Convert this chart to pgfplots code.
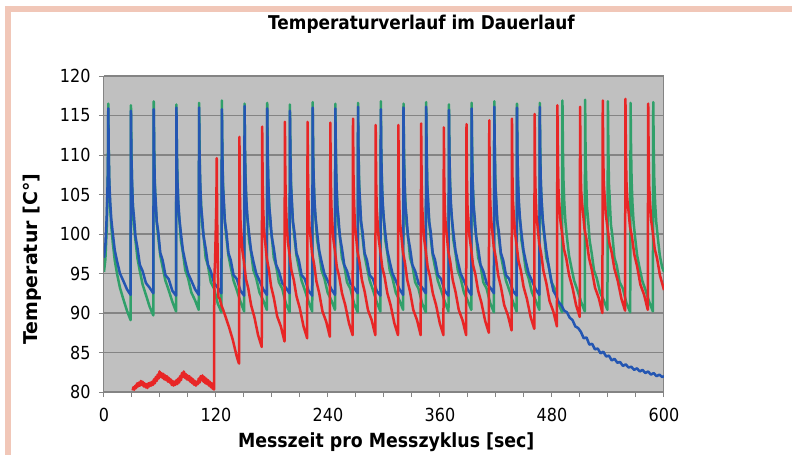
\documentclass[border=0pt]{standalone}
\usepackage{fontspec}
\setmainfont{DejaVu Sans}[FakeStretch=0.89]
\newfontfamily\ylabfont{DejaVu Sans}
\usepackage{pgfplots}
\pgfplotsset{compat=1.18}

\definecolor{plotbg}{RGB}{192,192,192}
\definecolor{gridgray}{RGB}{132,132,132}
\definecolor{framepink}{RGB}{241,199,184}
\definecolor{lineblue}{RGB}{36,86,178}
\definecolor{linered}{RGB}{232,38,38}
\definecolor{linegreen}{RGB}{48,160,106}

\begin{document}
\begin{tikzpicture}
\useasboundingbox (-104pt,-63pt) rectangle (688pt,392pt);
\begin{axis}[
    scale only axis,
    width=560pt, height=316pt,
    xmin=0, xmax=600, ymin=80, ymax=120,
    xtick={0,120,...,600},
    minor x tick num=3,
    ytick={80,85,...,120},
    tick pos=left,
    tick align=outside,
    major tick length=5pt,
    minor tick length=5pt,
    tick style={gridgray, line width=1pt},
    axis line style={gridgray, line width=1pt},
    axis background/.style={fill=plotbg},
    ymajorgrids,
    grid style={gridgray, line width=1.1pt},
    /pgf/number format/assume math mode=true,
    ticklabel style={font=\fontsize{18}{18}\selectfont},
    xticklabel style={yshift=-8pt},
    yticklabel style={xshift=-5pt},
    title={Temperaturverlauf im Dauerlauf},
    title style={font=\bfseries\fontsize{19}{19}\selectfont, at={(axis description cs:0.567,1.1266)}, anchor=base},
    xlabel={Messzeit pro Messzyklus [sec]},
    xlabel style={font=\bfseries\fontsize{19.5}{19.5}\selectfont, at={(axis description cs:0.504,-0.1772)}, anchor=base},
    ylabel={Temperatur [C°]},
    ylabel style={font=\ylabfont\bfseries\fontsize{19}{19}\selectfont, at={(axis description cs:-0.1196,0.42)}, anchor=base},
    every axis plot/.append style={line width=2.5pt, line join=round},
]
% green
\addplot[linegreen] coordinates {
(0,95.2) (1.5,96.8) (3.0,101.0) (4.2,108.5)
(4.6,116.5) (5.1,110.5) (5.7,106.2) (6.6,103.4) (7.8,101.0) (9.4,98.9) (11.6,96.6) (14.1,94.9) (17.1,93.2) (20.6,91.8) (24.6,90.3) (28.5,89.1)
(28.9,116.3) (29.4,110.6) (30.0,106.5) (30.9,103.6) (32.1,101.2) (33.7,99.2) (35.9,96.9) (38.4,95.3) (41.4,93.6) (44.9,92.3) (48.9,90.8) (52.8,89.7)
(53.3,116.8) (53.8,110.8) (54.4,106.8) (55.3,103.9) (56.5,101.5) (58.1,99.6) (60.3,97.3) (62.8,95.8) (65.8,94.1) (69.3,92.9) (73.3,91.4) (77.2,90.2)
(77.6,116.4) (78.1,110.2) (78.7,107.1) (79.6,103.4) (80.8,101.8) (82.4,99.2) (84.6,97.6) (87.1,95.4) (90.1,94.4) (93.6,92.6) (97.6,91.6) (101.5,90.4)
(101.9,116.6) (102.4,111.0) (103.0,106.4) (103.9,104.2) (105.1,101.2) (106.7,99.8) (108.9,97.0) (111.4,96.0) (114.4,93.9) (117.9,93.1) (121.9,91.2) (125.8,90.1)
(126.3,116.9) (126.8,110.8) (127.4,106.8) (128.3,103.9) (129.5,101.5) (131.1,99.6) (133.3,97.3) (135.8,95.8) (138.8,94.1) (142.3,92.9) (146.3,91.4) (150.2,90.2)
(150.6,116.5) (151.1,110.2) (151.7,107.1) (152.6,103.4) (153.8,101.8) (155.4,99.2) (157.6,97.6) (160.1,95.4) (163.1,94.4) (166.6,92.6) (170.6,91.6) (174.5,90.4)
(174.9,116.6) (175.4,111.0) (176.0,106.4) (176.9,104.2) (178.1,101.2) (179.7,99.8) (181.9,97.0) (184.4,96.0) (187.4,93.9) (190.9,93.1) (194.9,91.2) (198.8,90.1)
(199.2,116.4) (199.7,110.8) (200.3,106.8) (201.2,103.9) (202.4,101.5) (204.0,99.6) (206.2,97.3) (208.7,95.8) (211.7,94.1) (215.2,92.9) (219.2,91.4) (223.1,90.2)
(223.6,116.7) (224.1,110.2) (224.7,107.1) (225.6,103.4) (226.8,101.8) (228.4,99.2) (230.6,97.6) (233.1,95.4) (236.1,94.4) (239.6,92.6) (243.6,91.6) (247.5,90.4)
(247.9,116.5) (248.4,111.0) (249.0,106.4) (249.9,104.2) (251.1,101.2) (252.7,99.8) (254.9,97.0) (257.4,96.0) (260.4,93.9) (263.9,93.1) (267.9,91.2) (271.8,90.1)
(272.2,116.6) (272.7,110.8) (273.3,106.8) (274.2,103.9) (275.4,101.5) (277.0,99.6) (279.2,97.3) (281.7,95.8) (284.7,94.1) (288.2,92.9) (292.2,91.4) (296.1,90.2)
(296.6,116.8) (297.1,110.2) (297.7,107.1) (298.6,103.4) (299.8,101.8) (301.4,99.2) (303.6,97.6) (306.1,95.4) (309.1,94.4) (312.6,92.6) (316.6,91.6) (320.5,90.4)
(320.9,116.5) (321.4,111.0) (322.0,106.4) (322.9,104.2) (324.1,101.2) (325.7,99.8) (327.9,97.0) (330.4,96.0) (333.4,93.9) (336.9,93.1) (340.9,91.2) (344.8,90.1)
(345.2,116.7) (345.7,110.8) (346.3,106.8) (347.2,103.9) (348.4,101.5) (350.0,99.6) (352.2,97.3) (354.7,95.8) (357.7,94.1) (361.2,92.9) (365.2,91.4) (369.1,90.2)
(369.6,116.4) (370.1,110.2) (370.7,107.1) (371.6,103.4) (372.8,101.8) (374.4,99.2) (376.6,97.6) (379.1,95.4) (382.1,94.4) (385.6,92.6) (389.6,91.6) (393.5,90.4)
(393.9,116.6) (394.4,111.0) (395.0,106.4) (395.9,104.2) (397.1,101.2) (398.7,99.8) (400.9,97.0) (403.4,96.0) (406.4,93.9) (409.9,93.1) (413.9,91.2) (417.8,90.1)
(418.2,116.8) (418.7,110.8) (419.3,106.8) (420.2,103.9) (421.4,101.5) (423.0,99.6) (425.2,97.3) (427.7,95.8) (430.7,94.1) (434.2,92.9) (438.2,91.4) (442.1,90.2)
(442.5,116.5) (443.0,110.2) (443.6,107.1) (444.5,103.4) (445.7,101.8) (447.3,99.2) (449.5,97.6) (452.0,95.4) (455.0,94.4) (458.5,92.6) (462.5,91.6) (466.4,90.4)
(466.9,116.6) (467.4,111.0) (468.0,106.4) (468.9,104.2) (470.1,101.2) (471.7,99.8) (473.9,97.0) (476.4,96.0) (479.4,93.9) (482.9,93.1) (486.9,91.2) (490.8,90.1)
(491.2,116.9) (491.7,110.8) (492.3,106.8) (493.2,103.9) (494.4,101.5) (496.0,99.6) (498.2,97.3) (500.7,95.8) (503.7,94.1) (507.2,92.9) (511.2,91.4) (515.1,90.2)
(515.5,117.0) (516.0,110.2) (516.6,107.1) (517.5,103.4) (518.7,101.8) (520.3,99.2) (522.5,97.6) (525.0,95.4) (528.0,94.4) (531.5,92.6) (535.5,91.6) (539.4,90.4)
(539.9,116.8) (540.4,111.0) (541.0,106.4) (541.9,104.2) (543.1,101.2) (544.7,99.8) (546.9,97.0) (549.4,96.0) (552.4,93.9) (555.9,93.1) (559.9,91.2) (563.8,90.1)
(564.2,116.6) (564.7,110.8) (565.3,106.8) (566.2,103.9) (567.4,101.5) (569.0,99.6) (571.2,97.3) (573.7,95.8) (576.7,94.1) (580.2,92.9) (584.2,91.4) (588.1,90.2)
(588.5,116.7) (589.0,110.8) (589.6,106.8) (590.5,103.9) (591.7,101.5) (593.3,99.6) (595.5,97.3) (598.0,95.8) (600,95.2)
};
% blue
\addplot[lineblue] coordinates {
(0,97.0) (1.5,98.6) (3.0,102.4) (4.2,108.0)
(4.6,115.9) (5.1,110.2) (5.7,106.6) (6.6,104.1) (7.8,101.9) (9.4,100.1) (11.6,97.9) (14.1,96.5) (17.1,95.0) (20.6,94.1) (24.6,93.0) (28.5,92.3)
(28.9,115.6) (29.4,109.6) (30.0,106.9) (30.9,103.6) (32.1,102.2) (33.7,99.7) (35.9,98.2) (38.4,96.1) (41.4,95.3) (44.9,93.8) (48.9,93.2) (52.8,92.5)
(53.3,115.8) (53.8,110.5) (54.4,106.2) (55.3,104.4) (56.5,101.6) (58.1,100.3) (60.3,97.6) (62.8,96.7) (65.8,94.8) (69.3,94.3) (73.3,92.8) (77.2,92.2)
(77.6,116.0) (78.1,110.2) (78.7,106.6) (79.6,104.1) (80.8,101.9) (82.4,100.1) (84.6,97.9) (87.1,96.5) (90.1,95.0) (93.6,94.1) (97.6,93.0) (101.5,92.3)
(101.9,116.0) (102.4,109.6) (103.0,106.9) (103.9,103.6) (105.1,102.2) (106.7,99.7) (108.9,98.2) (111.4,96.1) (114.4,95.3) (117.9,93.8) (121.9,93.2) (125.8,92.5)
(126.3,115.8) (126.8,110.5) (127.4,106.2) (128.3,104.4) (129.5,101.6) (131.1,100.3) (133.3,97.6) (135.8,96.7) (138.8,94.8) (142.3,94.3) (146.3,92.8) (150.2,92.2)
(150.6,116.2) (151.1,110.2) (151.7,106.6) (152.6,104.1) (153.8,101.9) (155.4,100.1) (157.6,97.9) (160.1,96.5) (163.1,95.0) (166.6,94.1) (170.6,93.0) (174.5,92.3)
(174.9,115.9) (175.4,109.6) (176.0,106.9) (176.9,103.6) (178.1,102.2) (179.7,99.7) (181.9,98.2) (184.4,96.1) (187.4,95.3) (190.9,93.8) (194.9,93.2) (198.8,92.5)
(199.2,115.6) (199.7,110.5) (200.3,106.2) (201.2,104.4) (202.4,101.6) (204.0,100.3) (206.2,97.6) (208.7,96.7) (211.7,94.8) (215.2,94.3) (219.2,92.8) (223.1,92.2)
(223.6,116.0) (224.1,110.2) (224.7,106.6) (225.6,104.1) (226.8,101.9) (228.4,100.1) (230.6,97.9) (233.1,96.5) (236.1,95.0) (239.6,94.1) (243.6,93.0) (247.5,92.3)
(247.9,115.9) (248.4,109.6) (249.0,106.9) (249.9,103.6) (251.1,102.2) (252.7,99.7) (254.9,98.2) (257.4,96.1) (260.4,95.3) (263.9,93.8) (267.9,93.2) (271.8,92.5)
(272.2,116.1) (272.7,110.5) (273.3,106.2) (274.2,104.4) (275.4,101.6) (277.0,100.3) (279.2,97.6) (281.7,96.7) (284.7,94.8) (288.2,94.3) (292.2,92.8) (296.1,92.2)
(296.6,115.8) (297.1,110.2) (297.7,106.6) (298.6,104.1) (299.8,101.9) (301.4,100.1) (303.6,97.9) (306.1,96.5) (309.1,95.0) (312.6,94.1) (316.6,93.0) (320.5,92.3)
(320.9,116.0) (321.4,109.6) (322.0,106.9) (322.9,103.6) (324.1,102.2) (325.7,99.7) (327.9,98.2) (330.4,96.1) (333.4,95.3) (336.9,93.8) (340.9,93.2) (344.8,92.5)
(345.2,116.1) (345.7,110.5) (346.3,106.2) (347.2,104.4) (348.4,101.6) (350.0,100.3) (352.2,97.6) (354.7,96.7) (357.7,94.8) (361.2,94.3) (365.2,92.8) (369.1,92.2)
(369.6,115.7) (370.1,110.2) (370.7,106.6) (371.6,104.1) (372.8,101.9) (374.4,100.1) (376.6,97.9) (379.1,96.5) (382.1,95.0) (385.6,94.1) (389.6,93.0) (393.5,92.3)
(393.9,115.9) (394.4,109.6) (395.0,106.9) (395.9,103.6) (397.1,102.2) (398.7,99.7) (400.9,98.2) (403.4,96.1) (406.4,95.3) (409.9,93.8) (413.9,93.2) (417.8,92.5)
(418.2,116.1) (418.7,110.5) (419.3,106.2) (420.2,104.4) (421.4,101.6) (423.0,100.3) (425.2,97.6) (427.7,96.7) (430.7,94.8) (434.2,94.3) (438.2,92.8) (442.1,92.2)
(442.5,116.0) (443.0,110.2) (443.6,106.6) (444.5,104.1) (445.7,101.9) (447.3,100.1) (449.5,97.9) (452.0,96.5) (455.0,95.0) (458.5,94.1) (462.5,93.0) (466.4,92.3)
(466.9,116.1) (467.4,110.2) (468.0,106.6) (468.9,104.1) (470.1,101.9) (471.7,100.1) (473.9,97.9) (476.4,96.0) (479.4,94.0) (481.5,92.8) (484,92.3) (487,91.4)
(490,91.0) (493,90.3) (496,90.1) (499,89.4) (502,89.1) (505,88.3) (508,88.1) (511,87.6) (514,86.8) (517,86.9) (520,86.0) (523,86.1)
(526,85.4) (529,85.5) (532,84.9) (535,85.1) (538,84.5) (541,84.6) (544,84.0) (547,84.2) (550,83.7) (553,83.8) (556,83.3) (559,83.5)
(562,83.1) (565,83.2) (568,82.8) (571,83.0) (574,82.6) (577,82.8) (580,82.4) (583,82.6) (586,82.2) (589,82.4) (592,82.0) (595,82.2) (598,81.9) (600,82.0)
};
% red
\addplot[linered] coordinates {
(30.7,80.2) (31.5,80.6) (32.5,80.3) (33.5,80.8) (34.5,80.5) (35.5,81.1) (36.5,80.7) (37.5,81.2) (38.5,80.8) (39.5,81.4)
(40.5,80.9) (41.5,81.3) (42.5,80.7) (43.5,81.1) (44.5,80.6) (45.5,81.0) (46.5,80.5) (47.5,81.1) (48.5,80.7) (49.5,81.2)
(50.5,80.8) (51.5,81.3) (52.5,80.9) (53.5,81.6) (54.5,81.1) (55.5,81.9) (56.5,81.4) (57.5,82.2) (58.5,81.7) (59.5,82.6)
(60.5,81.9) (61.5,82.4) (62.5,81.8) (63.5,82.3) (64.5,81.6) (65.5,82.1) (66.5,81.5) (67.5,82.0) (68.5,81.3) (69.5,81.8)
(70.5,81.2) (71.5,81.6) (72.5,80.9) (73.5,81.4) (74.5,80.8) (75.5,81.3) (76.5,80.9) (77.5,81.5) (78.5,81.0) (79.5,81.7)
(80.5,81.2) (81.5,82.0) (82.5,81.5) (83.5,82.4) (84.5,81.9) (85.5,82.6) (86.5,81.8) (87.5,82.3) (88.5,81.6) (89.5,82.1)
(90.5,81.5) (91.5,82.0) (92.5,81.3) (93.5,81.8) (94.5,81.1) (95.5,81.6) (96.5,80.9) (97.5,81.4) (98.5,80.8) (99.5,81.3)
(100.5,81.0) (101.5,81.7) (102.5,81.2) (103.5,82.0) (104.5,81.5) (105.5,82.1) (106.5,81.3) (107.5,81.9) (108.5,81.1) (109.5,81.7)
(110.5,81.0) (111.5,81.5) (112.5,80.8) (113.5,81.3) (114.5,80.6) (115.5,81.1) (116.5,80.4) (117.5,80.8) (117.9,80.3)
(118.2,94.5) (119.0,96.5) (120.4,104.0) (120.8,109.6) (121.3,101.5) (122.0,95.5) (122.5,92.0) (124,91.8) (126,90.9) (128,90.3)
(130,89.6) (132,88.9) (134,88.2) (136,87.4) (138,86.6) (140,85.6) (142,84.6) (144.0,83.8) (144.8,83.6)
(145.1,112.3) (145.6,105.3) (146.2,101.8) (147.1,100.1) (148.3,97.9) (149.9,96.5) (152.1,94.3) (154.6,93.1) (157.6,91.0) (161.1,89.5) (165.1,87.2) (169.0,85.7)
(169.5,113.6) (170.0,106.6) (170.6,103.1) (171.5,100.4) (172.7,99.0) (174.3,97.0) (176.5,95.6) (179.0,93.4) (182.0,91.9) (185.5,89.6) (189.5,88.3) (193.4,86.4)
(193.8,114.2) (194.3,107.2) (194.9,103.7) (195.8,101.2) (197.0,99.0) (198.6,97.6) (200.8,95.4) (203.3,94.2) (206.3,92.1) (209.8,90.6) (213.8,88.3) (217.7,86.8)
(218.1,114.2) (218.6,107.2) (219.2,103.7) (220.1,101.0) (221.3,99.6) (222.9,97.6) (225.1,96.2) (227.6,94.0) (230.6,92.5) (234.1,90.2) (238.1,88.9) (242.0,87.0)
(242.5,114.1) (243.0,107.1) (243.6,103.6) (244.5,101.6) (245.7,99.4) (247.3,98.0) (249.5,95.8) (252.0,94.6) (255.0,92.5) (258.5,91.0) (262.5,88.7) (266.4,87.2)
(266.8,114.6) (267.3,107.6) (267.9,104.1) (268.8,101.2) (270.0,99.8) (271.6,97.8) (273.8,96.4) (276.3,94.2) (279.3,92.7) (282.8,90.4) (286.8,89.1) (290.7,87.2)
(291.1,113.8) (291.6,106.8) (292.2,103.3) (293.1,101.6) (294.3,99.4) (295.9,98.0) (298.1,95.8) (300.6,94.6) (303.6,92.5) (307.1,91.0) (311.1,88.7) (315.0,87.2)
(315.4,113.8) (315.9,106.8) (316.5,103.3) (317.4,101.2) (318.6,99.8) (320.2,97.8) (322.4,96.4) (324.9,94.2) (327.9,92.7) (331.4,90.4) (335.4,89.1) (339.3,87.2)
(339.8,114.0) (340.3,107.0) (340.9,103.5) (341.8,101.6) (343.0,99.4) (344.6,98.0) (346.8,95.8) (349.3,94.6) (352.3,92.5) (355.8,91.0) (359.8,88.7) (363.7,87.2)
(364.1,113.5) (364.6,106.5) (365.2,103.0) (366.1,101.2) (367.3,99.8) (368.9,97.8) (371.1,96.4) (373.6,94.2) (376.6,92.7) (380.1,90.4) (384.1,89.1) (388.0,87.2)
(388.4,113.9) (388.9,106.9) (389.5,103.4) (390.4,101.9) (391.6,99.7) (393.2,98.3) (395.4,96.1) (397.9,94.9) (400.9,92.8) (404.4,91.3) (408.4,89.0) (412.3,87.5)
(412.8,114.4) (413.3,107.4) (413.9,103.9) (414.8,101.8) (416.0,100.4) (417.6,98.4) (419.8,97.0) (422.3,94.8) (425.3,93.3) (428.8,91.0) (432.8,89.7) (436.7,87.8)
(437.1,114.6) (437.6,107.6) (438.2,104.1) (439.1,102.4) (440.3,100.2) (441.9,98.8) (444.1,96.6) (446.6,95.4) (449.6,93.3) (453.1,91.8) (457.1,89.5) (461.0,88.0)
(461.4,115.2) (461.9,108.2) (462.5,104.7) (463.4,102.3) (464.6,100.9) (466.2,98.9) (468.4,97.5) (470.9,95.3) (473.9,93.8) (477.4,91.5) (481.4,90.2) (485.3,88.3)
(485.8,116.3) (486.3,109.3) (486.9,105.8) (487.8,103.9) (489.0,101.7) (490.6,100.3) (492.8,98.1) (495.3,96.9) (498.3,94.8) (501.8,93.3) (505.8,91.0) (509.7,89.5)
(510.1,116.1) (510.6,109.1) (511.2,105.6) (512.1,104.0) (513.3,102.6) (514.9,100.6) (517.1,99.2) (519.6,97.0) (522.6,95.5) (526.1,93.2) (530.1,91.9) (534.0,90.0)
(534.4,116.9) (534.9,109.9) (535.5,106.4) (536.4,104.7) (537.6,102.5) (539.2,101.1) (541.4,98.9) (543.9,97.7) (546.9,95.6) (550.4,94.1) (554.4,91.8) (558.3,90.3)
(558.7,117.1) (559.2,110.1) (559.8,106.6) (560.7,104.4) (561.9,103.0) (563.5,101.0) (565.7,99.6) (568.2,97.4) (571.2,95.9) (574.7,93.6) (578.7,92.3) (582.6,90.4)
(583.1,116.5) (583.6,109.5) (584.2,106.0) (585.1,103.9) (586.3,101.7) (587.9,100.3) (590.1,98.1) (592.6,96.9) (595.6,94.8) (599.1,93.3) (600,92.9)
};
\end{axis}
\draw[framepink, line width=6pt] (-99pt,383pt) -- (688pt,383pt);
\draw[framepink, line width=6pt] (-96pt,386pt) -- (-96pt,-63pt);
\end{tikzpicture}
\end{document}
